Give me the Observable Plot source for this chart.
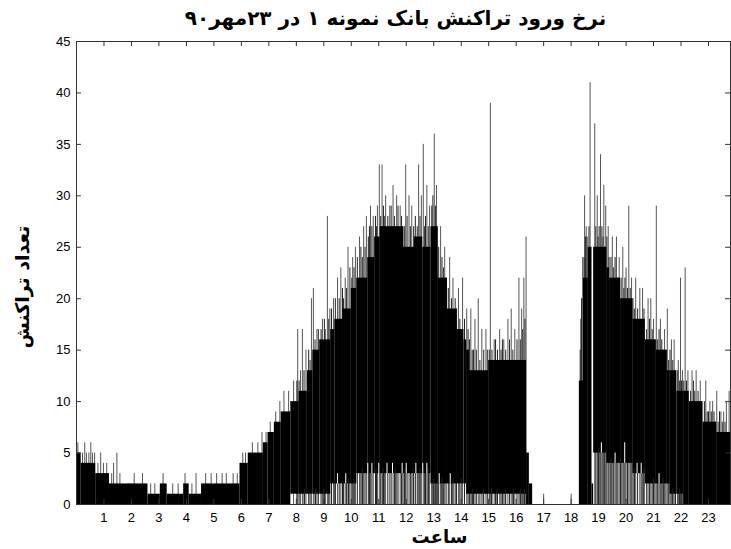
<!DOCTYPE html>
<html><head><meta charset="utf-8">
<script src="https://cdn.jsdelivr.net/npm/d3@7"></script>
<script src="https://cdn.jsdelivr.net/npm/@observablehq/plot@0.6"></script>
<style>body{margin:0;background:#fff}#chart svg{display:block}</style>
</head><body><div id="chart"></div>
<script>
const titleText = "نرخ ورود تراکنش بانک نمونه ۱ در ۲۳مهر۹۰";
const xLabelText = "ساعت";
const yLabelText = "تعداد تراکنش";
const xTickValues = [1,2,3,4,5,6,7,8,9,10,11,12,13,14,15,16,17,18,19,20,21,22,23];
const yTickValues = [0,5,10,15,20,25,30,35,40,45];
const endHour = 23.8;

// envelope segments: start hour, upper edge of solid black, lower edge of solid black
const segStart = [0.00,0.17,0.70,1.20,2.60,3.05,3.30,3.90,4.10,4.55,5.95,6.25,6.80,6.97,7.20,7.45,7.80,8.10,8.40,8.60,8.85,9.10,9.25,9.40,9.70,10.00,10.20,10.60,10.85,11.05,11.90,12.30,12.60,12.90,13.15,13.50,13.85,14.10,14.20,14.30,15.00,16.38,16.48,16.60,18.30,18.45,18.62,18.76,18.82,19.30,19.40,19.80,20.25,20.70,21.10,21.50,21.60,21.85,22.10,22.30,22.80,23.30];
const segHigh  = [5,4,3,2,1,2,1,2,1,2,4,5,6,7,8,9,10,11,13,15,16,16,17,18,19,21,22,24,26,27,25,26,25,27,22,19,17,16,15,13,14,5,2,0,12,22,25,2,25,23,22,20,18,16,15,13,13,11,11,10,8,7];
const segLow   = [0,0,0,0,0,0,0,0,0,0,0,0,0,0,0,0,1,1,1,1,1,1,2,2,2,2,3,3,3,3,3,3,3,2,2,2,2,2,1,1,1,0,0,0,0,0,0,0,5,4,4,4,3,2,2,2,1,1,0,0,0,0];

// thin peaks above the solid envelope
const spikeHour = [0.05,0.10,0.22,0.30,0.36,0.45,0.52,0.58,0.66,0.78,0.88,0.98,1.10,1.28,1.35,1.47,1.58,1.90,2.10,2.40,2.70,2.85,3.15,3.50,3.70,3.95,4.20,4.35,4.70,4.90,5.10,5.30,5.45,5.70,5.85,6.05,6.15,6.40,6.60,6.75,6.90,7.05,7.25,7.40,7.55,7.72,7.90,8.05,8.15,8.22,8.35,8.55,8.62,8.75,8.95,9.13,9.22,9.35,9.50,9.62,9.78,9.88,10.05,10.15,10.30,10.45,10.55,10.70,10.80,10.95,11.02,11.12,11.25,11.40,11.52,11.65,11.78,11.98,12.10,12.20,12.45,12.55,12.62,12.75,12.85,13.02,13.10,13.25,13.40,13.58,13.70,13.90,14.05,14.20,14.35,14.50,14.62,14.75,14.90,15.06,15.20,15.40,15.55,15.70,15.82,15.95,16.10,16.20,16.28,16.36,17.00,18.00,18.35,18.42,18.49,18.55,18.69,18.86,18.95,19.07,19.19,19.26,19.35,19.50,19.65,19.75,19.88,20.00,20.10,20.20,20.35,20.50,20.60,20.80,20.90,21.00,21.10,21.25,21.40,21.50,21.65,21.75,21.90,21.98,22.05,22.15,22.25,22.40,22.55,22.70,22.90,23.05,23.15,23.30,23.45,23.55,23.65,23.75];
const spikeValue = [6,5,5,6,5,5,6,5,5,4,5,4,4,3,4,5,3,2,3,3,2,2,3,2,2,3,2,3,3,3,3,3,3,3,3,5,5,6,6,7,7,8,9,10,11,11,12,17,13,17,15,20,21,17,18,28,19,20,22,23,22,25,24,25,26,27,28,29,28,29,33,33,30,29,31,30,29,33,30,29,33,30,35,31,29,36,31,27,25,24,22,21,22,19,19,18,20,17,17,39,16,17,16,18,19,17,22,19,22,26,1,1,18,24,30,27,41,37,30,34,31,29,27,26,26,24,25,23,29,22,22,21,21,20,20,18,29,18,17,19,16,16,14,22,13,23,13,13,13,12,12,10,10,11,9,9,10,11];

// dense short stems just above the solid envelope (the ragged top edge)
const fringeHour = [8.02,8.10,8.28,8.45,8.50,8.68,8.80,8.90,9.02,9.05,9.18,9.28,9.42,9.56,9.68,9.72,9.83,9.95,10.02,10.10,10.22,10.35,10.40,10.50,10.62,10.66,10.75,10.88,10.92,11.07,11.17,11.20,11.33,11.45,11.57,11.70,11.83,11.88,11.93,12.03,12.15,12.27,12.33,12.40,12.50,12.67,12.70,12.80,12.93,12.97,13.06,13.13,13.18,13.30,13.35,13.45,13.53,13.65,13.78,13.83,13.95,14.12,14.25,14.30,14.40,14.45,14.55,14.68,14.82,14.95,15.02,15.12,15.25,15.32,15.45,15.50,15.62,15.76,15.88,16.03,16.15,16.24,16.32,18.33,18.38,18.47,18.52,18.58,18.65,18.90,18.98,19.02,19.12,19.16,19.22,19.30,19.38,19.45,19.55,19.60,19.70,19.82,19.92,19.96,20.05,20.15,20.25,20.30,20.42,20.55,20.65,20.75,20.85,20.95,21.05,21.15,21.20,21.30,21.35,21.45,21.55,21.60,21.70,21.80,21.88,21.95,22.02,22.10,22.20,22.35,22.45,22.50,22.62,22.75,22.85,22.95,23.00,23.10,23.20,23.25,23.35,23.40,23.50,23.60,23.70];
const fringeValue = [12,12,13,15,14,16,17,17,18,17,18,19,20,20,21,20,21,23,22,23,24,25,24,25,26,27,27,28,27,28,29,28,28,29,28,29,28,27,27,28,27,27,28,27,28,27,28,27,29,30,29,27,25,24,23,22,21,20,20,19,18,18,17,16,15,15,15,14,15,15,15,15,16,15,15,16,15,16,15,16,16,17,18,15,20,24,26,26,27,27,26,27,27,26,25,26,24,24,23,24,22,22,21,22,21,21,20,19,19,18,19,17,18,17,16,16,17,16,15,15,14,15,14,13,13,12,12,12,12,11,12,11,11,10,10,9,9,9,9,8,8,9,8,8,7];

// black stems reaching the axis inside the light lower band
const dipHour = [8.30,8.70,9.00,9.40,9.90,10.10,10.40,10.90,11.15,11.60,11.95,12.25,12.50,12.80,13.00,13.30,13.70,14.00,14.40,14.80,15.10,15.30,15.60,15.90,16.15,16.30,19.00,19.45,19.80,20.30,20.65,21.00,21.35,21.70,21.95];
// white gaps rising into the black from its lower edge
const gapHour = [9.50,9.80,10.60,10.75,11.00,11.30,11.50,11.85,12.00,12.35,12.60,12.75,13.20,13.60,19.10,19.60,19.95,20.40,20.55,21.20];
const gapTop  = [3,3,4,4,4,4,4,4,4,4,4,4,3,3,6,5,6,4,4,3];

const segments = segStart.map((s, i) => ({
  x1: s, x2: i + 1 < segStart.length ? segStart[i + 1] : endHour, lo: segLow[i], hi: segHigh[i]
}));
const lowAt = h => { const s = segments.find(d => h >= d.x1 && h < d.x2); return s ? s.lo : 0; };
const spikes = spikeHour.map((h, i) => ({h, v: spikeValue[i]}));
const fringe = fringeHour.map((h, i) => ({h, v: fringeValue[i]}));
const dips = dipHour.map(h => ({h, v: lowAt(h) + 0.5}));
const gaps = gapHour.map((h, i) => ({h, lo: lowAt(h), v: gapTop[i]}));

const fontAxis = "'Liberation Sans', Arial, sans-serif";
const fontFa = "'DejaVu Sans', sans-serif";

const chart = Plot.plot({
  width: 731, height: 549,
  marginLeft: 76, marginRight: 1, marginTop: 41, marginBottom: 45,
  style: {fontFamily: fontAxis, fontSize: "13px", color: "#000", background: "#fff"},
  x: {domain: [0, endHour], ticks: xTickValues, tickSize: 0, tickPadding: 8, label: null, tickFormat: d => String(d)},
  y: {domain: [0, 45], ticks: yTickValues, tickSize: 0, tickPadding: 6, label: null, tickFormat: d => String(d)},
  marks: [
    Plot.ruleX(spikes, {x: "h", y1: 0, y2: "v", stroke: "#555", strokeWidth: 1}),
    Plot.ruleX(fringe, {x: "h", y1: 0, y2: "v", stroke: "#222", strokeWidth: 1}),
    Plot.rect(segments, {x1: "x1", x2: "x2", y1: "lo", y2: "hi", fill: "#000"}),
    Plot.ruleX(dips, {x: "h", y1: 0, y2: "v", stroke: "#222", strokeWidth: 1}),
    Plot.ruleX(gaps, {x: "h", y1: "lo", y2: "v", stroke: "#fff", strokeWidth: 1}),
    Plot.frame({stroke: "#333", strokeWidth: 1}),
    Plot.ruleX(xTickValues, {x: d => d, y1: 0, y2: 0.5, stroke: "#333"}),
    Plot.ruleX(xTickValues, {x: d => d, y1: 44.5, y2: 45, stroke: "#333"}),
    Plot.ruleY(yTickValues, {y: d => d, x1: 0, x2: 0.18, stroke: "#333"}),
    Plot.ruleY(yTickValues, {y: d => d, x1: endHour - 0.18, x2: endHour, stroke: "#333"}),
    Plot.text([titleText], {frameAnchor: "top", dy: -23, dx: -8, lineAnchor: "middle", textAnchor: "middle", text: d => d, fontFamily: fontFa, fontWeight: "bold", fontSize: 20, fill: "#000"}),
    Plot.text([xLabelText], {frameAnchor: "bottom", dy: 33, dx: 36, lineAnchor: "middle", textAnchor: "middle", text: d => d, fontFamily: fontFa, fontWeight: "bold", fontSize: 18, fill: "#000"}),
    Plot.text([yLabelText], {frameAnchor: "left", dx: -54, dy: 14, lineAnchor: "middle", textAnchor: "middle", rotate: -90, text: d => d, fontFamily: fontFa, fontWeight: "bold", fontSize: 19, fill: "#000"})
  ]
});
document.getElementById("chart").appendChild(chart);
</script>
</body></html>
